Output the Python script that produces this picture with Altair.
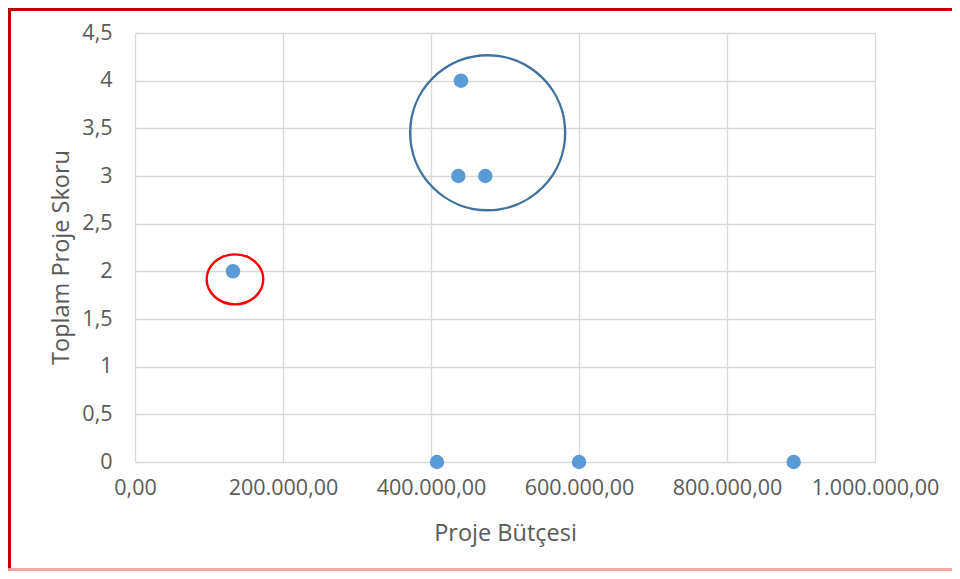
import altair as alt
import pandas as pd

# Data
budget = [132400, 440500, 436900, 473400, 408100, 600000, 890100]
score = [2, 4, 3, 3, 0, 0, 0]

# Annotation rings (centres in data units)
ring_x = [476600, 135100]
ring_y = [3.454, 1.916]
ring_kind = ["blue", "red"]

x_ticks = [0, 200000, 400000, 600000, 800000, 1000000]
y_ticks = [0, 0.5, 1, 1.5, 2, 2.5, 3, 3.5, 4, 4.5]

pts = pd.DataFrame({"budget": budget, "score": score})
rings = pd.DataFrame({"x": ring_x, "y": ring_y, "kind": ring_kind})

FONT = "Open Sans"
GREY = "#595959"
GRID = "#d9d9d9"

xlab = ("replace(replace(replace(format(datum.value, ',.2f'), regexp(',', 'g'), '#'),"
        " '.', ','), regexp('#', 'g'), '.')")
ylab = "replace(format(datum.value, '.1~f'), '.', ',')"

xs = alt.Scale(domain=[0, 1000000], nice=False, zero=False)
ys = alt.Scale(domain=[0, 4.5], nice=False, zero=False)

base_x = alt.X("budget:Q", scale=xs, axis=alt.Axis(
    values=x_ticks, labelExpr=xlab, title="Proje Bütçesi",
    grid=True, gridColor=GRID, gridWidth=1.3, domain=False, ticks=False,
    labelFont=FONT, labelFontSize=21.5, labelColor=GREY, labelPadding=15,
    titleFont=FONT, titleFontSize=23.5, titleColor=GREY, titleFontWeight="normal",
    titleX=370, titleY=71, titleBaseline="middle", titleAlign="center",
    labelFlush=False, labelOverlap=False))
base_y = alt.Y("score:Q", scale=ys, axis=alt.Axis(
    values=y_ticks, labelExpr=ylab, title="Toplam Proje Skoru",
    grid=True, gridColor=GRID, gridWidth=1.3, domain=False, ticks=False,
    labelFont=FONT, labelFontSize=21.5, labelColor=GREY, labelPadding=23,
    titleFont=FONT, titleFontSize=23.5, titleColor=GREY, titleFontWeight="normal",
    titleX=-74, titleY=224, titleBaseline="middle", titleAlign="center", titleAngle=-90,
    labelFlush=False, labelOverlap=False))

points = alt.Chart(pts).mark_circle(size=210, color="#5B9BD5", opacity=1).encode(
    x=base_x, y=base_y)

blue_ring = alt.Chart(rings).transform_filter("datum.kind == 'blue'").mark_point(
    shape="circle", size=24025, filled=False, stroke="#41719C", strokeWidth=2.4, opacity=1
).encode(x=alt.X("x:Q", scale=xs), y=alt.Y("y:Q", scale=ys))

red_ring = alt.Chart(rings).transform_filter("datum.kind == 'red'").mark_point(
    shape="M-1,0A1,0.883,0,1,1,1,0A1,0.883,0,1,1,-1,0Z", size=3204, filled=False,
    stroke="#FF0000", strokeWidth=2.4, opacity=1
).encode(x=alt.X("x:Q", scale=xs), y=alt.Y("y:Q", scale=ys))

# Slide frame lines
top_line = alt.Chart(pts).mark_rule(color="#C00000", strokeWidth=3).encode(
    x=alt.value(-127), x2=alt.value(817), y=alt.value(-23.5))
left_line = alt.Chart(pts).mark_rule(color="#C00000", strokeWidth=3).encode(
    x=alt.value(-125.5), y=alt.value(-25), y2=alt.value(538))
bottom_line = alt.Chart(pts).mark_rule(color="#F2A0A0", strokeWidth=1.5).encode(
    x=alt.value(-127), x2=alt.value(817), y=alt.value(536.5))

chart = alt.layer(points, blue_ring, red_ring, top_line, left_line, bottom_line).properties(
    width=740, height=429,
    autosize=alt.AutoSizeParams(type="none"),
    padding={"left": 127, "top": 25, "right": 77, "bottom": 109},
    background="white",
).configure_view(stroke=None)

chart.save("out.html", embed_options={"renderer": "svg", "actions": False})
